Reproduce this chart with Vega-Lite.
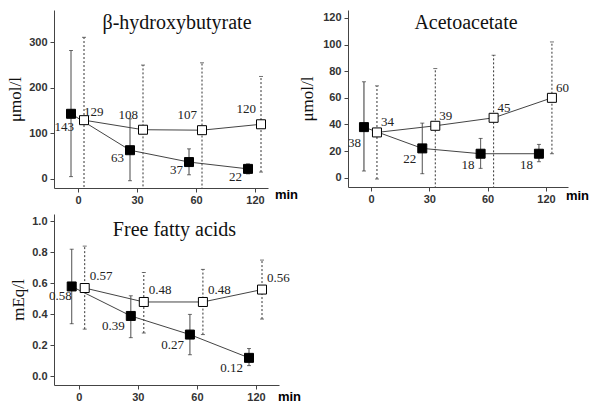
{
  "$schema": "https://vega.github.io/schema/vega-lite/v6.json",
  "background": "white",
  "padding": {"left": 6, "top": 10, "right": 0, "bottom": 0},
  "datasets": {
    "all": [
      {"panel": "bhb", "time": 0, "group": "filled", "mean": 143, "lo": 5, "hi": 282},
      {"panel": "bhb", "time": 30, "group": "filled", "mean": 63, "lo": -4, "hi": 132},
      {"panel": "bhb", "time": 60, "group": "filled", "mean": 37, "lo": 9, "hi": 66},
      {"panel": "bhb", "time": 120, "group": "filled", "mean": 22, "lo": 11, "hi": 33},
      {"panel": "bhb", "time": 0, "group": "open", "mean": 129, "lo": -53, "hi": 311},
      {"panel": "bhb", "time": 30, "group": "open", "mean": 108, "lo": -34, "hi": 250},
      {"panel": "bhb", "time": 60, "group": "open", "mean": 107, "lo": -41, "hi": 255},
      {"panel": "bhb", "time": 120, "group": "open", "mean": 120, "lo": 15, "hi": 225},
      {"panel": "aa", "time": 0, "group": "filled", "mean": 38, "lo": 5, "hi": 72},
      {"panel": "aa", "time": 30, "group": "filled", "mean": 22, "lo": 3, "hi": 41},
      {"panel": "aa", "time": 60, "group": "filled", "mean": 18, "lo": 7, "hi": 29.5},
      {"panel": "aa", "time": 120, "group": "filled", "mean": 18, "lo": 12, "hi": 25},
      {"panel": "aa", "time": 0, "group": "open", "mean": 34, "lo": -1, "hi": 69},
      {"panel": "aa", "time": 30, "group": "open", "mean": 39, "lo": -8, "hi": 82},
      {"panel": "aa", "time": 60, "group": "open", "mean": 45, "lo": -8, "hi": 92},
      {"panel": "aa", "time": 120, "group": "open", "mean": 60, "lo": 18, "hi": 102},
      {"panel": "ffa", "time": 0, "group": "filled", "mean": 0.58, "lo": 0.34, "hi": 0.82},
      {"panel": "ffa", "time": 30, "group": "filled", "mean": 0.39, "lo": 0.25, "hi": 0.52},
      {"panel": "ffa", "time": 60, "group": "filled", "mean": 0.27, "lo": 0.14, "hi": 0.40},
      {"panel": "ffa", "time": 120, "group": "filled", "mean": 0.12, "lo": 0.07, "hi": 0.18},
      {"panel": "ffa", "time": 0, "group": "open", "mean": 0.57, "lo": 0.305, "hi": 0.84},
      {"panel": "ffa", "time": 30, "group": "open", "mean": 0.48, "lo": 0.28, "hi": 0.67},
      {"panel": "ffa", "time": 60, "group": "open", "mean": 0.48, "lo": 0.27, "hi": 0.69},
      {"panel": "ffa", "time": 120, "group": "open", "mean": 0.56, "lo": 0.37, "hi": 0.75}
    ]
  },
  "data": {"name": "all"},
  "vconcat": [
    {
      "hconcat": [
        {
          "width": 214, "height": 178,
          "title": {"text": "β-hydroxybutyrate", "font": "Liberation Serif", "fontSize": 20, "fontWeight": "normal", "color": "#111", "offset": -23, "dx": 16},
          "transform": [{"filter": "datum.panel === 'bhb'"}],
          "encoding": {
            "x": {"field": "time", "type": "ordinal", "scale": {"type": "point", "padding": 0.3136, "align": 0.649},
                  "axis": {"labelAngle": 0, "title": "min", "titleAngle": 0, "titleX": 232, "titleY": 6, "titleBaseline": "middle", "titleAlign": "center"}},
            "y": {"field": "mean", "type": "quantitative", "scale": {"domain": [-20, 371], "nice": false, "zero": false},
                  "axis": {"values": [0, 100, 200, 300], "title": "μmol/l", "titlePadding": 4}}
          },
          "layer": [
            {"mark": {"type": "rule", "clip": true, "color": "#333", "strokeWidth": 1, "xOffset": {"expr": "datum.group === 'filled' ? -7 : 6"}},
             "encoding": {"y": {"field": "lo", "type": "quantitative", "scale": {"domain": [-20, 371], "nice": false, "zero": false}, "axis": {"values": [0, 100, 200, 300], "title": "μmol/l", "titlePadding": 4}},
                          "y2": {"field": "hi"},
                          "strokeDash": {"field": "group", "type": "nominal", "scale": {"domain": ["filled", "open"], "range": [[1, 0], [2, 2]]}, "legend": null}}},
            {"mark": {"type": "tick", "clip": true, "color": "#333", "size": 4, "thickness": 1, "orient": "horizontal", "xOffset": {"expr": "datum.group === 'filled' ? -7 : 6"}},
             "encoding": {"y": {"field": "hi", "type": "quantitative", "scale": {"domain": [-20, 371], "nice": false, "zero": false}, "axis": {"values": [0, 100, 200, 300], "title": "μmol/l", "titlePadding": 4}}}},
            {"mark": {"type": "tick", "clip": true, "color": "#333", "size": 4, "thickness": 1, "orient": "horizontal", "xOffset": {"expr": "datum.group === 'filled' ? -7 : 6"}},
             "transform": [{"filter": "datum.lo > -20"}],
             "encoding": {"y": {"field": "lo", "type": "quantitative", "scale": {"domain": [-20, 371], "nice": false, "zero": false}, "axis": {"values": [0, 100, 200, 300], "title": "μmol/l", "titlePadding": 4}}}},
            {"mark": {"type": "line", "color": "#444", "strokeWidth": 1, "xOffset": {"expr": "datum.group === 'filled' ? -7 : 6"}}, "encoding": {"detail": {"field": "group"}}},
            {"mark": {"type": "point", "shape": "square", "filled": true, "opacity": 1, "size": 81, "stroke": "#000", "strokeWidth": 1, "xOffset": {"expr": "datum.group === 'filled' ? -7 : 6"}},
             "encoding": {"fill": {"field": "group", "type": "nominal", "scale": {"domain": ["filled", "open"], "range": ["#000", "#fff"]}, "legend": null}}},
            {"transform": [{"filter": "datum.group === 'filled' && datum.time === 0"}],
             "mark": {"type": "text", "align": "right", "baseline": "middle", "dx": -4, "dy": 13, "font": "Liberation Serif", "fontSize": 13, "color": "#222"},
             "encoding": {"text": {"field": "mean", "type": "quantitative"}}},
            {"transform": [{"filter": "datum.group === 'filled' && datum.time !== 0"}],
             "mark": {"type": "text", "align": "right", "baseline": "middle", "dx": -13, "dy": 8, "font": "Liberation Serif", "fontSize": 13, "color": "#222"},
             "encoding": {"text": {"field": "mean", "type": "quantitative"}}},
            {"transform": [{"filter": "datum.group === 'open' && datum.time === 0"}],
             "mark": {"type": "text", "align": "left", "baseline": "middle", "dx": 6, "dy": -8, "font": "Liberation Serif", "fontSize": 13, "color": "#222"},
             "encoding": {"text": {"field": "mean", "type": "quantitative"}}},
            {"transform": [{"filter": "datum.group === 'open' && datum.time !== 0"}],
             "mark": {"type": "text", "align": "right", "baseline": "middle", "dx": 1, "dy": -15, "font": "Liberation Serif", "fontSize": 13, "color": "#222"},
             "encoding": {"text": {"field": "mean", "type": "quantitative"}}}
          ]
        },
        {
          "width": 220, "height": 177,
          "title": {"text": "Acetoacetate", "font": "Liberation Serif", "fontSize": 20, "fontWeight": "normal", "color": "#111", "offset": -23, "dx": 8},
          "transform": [{"filter": "datum.panel === 'aa'"}],
          "encoding": {
            "x": {"field": "time", "type": "ordinal", "scale": {"type": "point", "padding": 0.386, "align": 0.51},
                  "axis": {"labelAngle": 0, "title": "min", "titleAngle": 0, "titleX": 229, "titleY": 8, "titleBaseline": "middle", "titleAlign": "center"}},
            "y": {"field": "mean", "type": "quantitative", "scale": {"domain": [-7, 126], "nice": false, "zero": false},
                  "axis": {"values": [0, 20, 40, 60, 80, 100, 120], "title": "μmol/l", "titlePadding": 6}}
          },
          "layer": [
            {"mark": {"type": "rule", "clip": true, "color": "#333", "strokeWidth": 1, "xOffset": {"expr": "datum.group === 'filled' ? -7 : 6"}},
             "encoding": {"y": {"field": "lo", "type": "quantitative", "scale": {"domain": [-7, 126], "nice": false, "zero": false}, "axis": {"values": [0, 20, 40, 60, 80, 100, 120], "title": "μmol/l", "titlePadding": 6}},
                          "y2": {"field": "hi"},
                          "strokeDash": {"field": "group", "type": "nominal", "scale": {"domain": ["filled", "open"], "range": [[1, 0], [2, 2]]}, "legend": null}}},
            {"mark": {"type": "tick", "clip": true, "color": "#333", "size": 4, "thickness": 1, "orient": "horizontal", "xOffset": {"expr": "datum.group === 'filled' ? -7 : 6"}},
             "encoding": {"y": {"field": "hi", "type": "quantitative", "scale": {"domain": [-7, 126], "nice": false, "zero": false}, "axis": {"values": [0, 20, 40, 60, 80, 100, 120], "title": "μmol/l", "titlePadding": 6}}}},
            {"mark": {"type": "tick", "clip": true, "color": "#333", "size": 4, "thickness": 1, "orient": "horizontal", "xOffset": {"expr": "datum.group === 'filled' ? -7 : 6"}},
             "transform": [{"filter": "datum.lo > -7"}],
             "encoding": {"y": {"field": "lo", "type": "quantitative", "scale": {"domain": [-7, 126], "nice": false, "zero": false}, "axis": {"values": [0, 20, 40, 60, 80, 100, 120], "title": "μmol/l", "titlePadding": 6}}}},
            {"mark": {"type": "line", "color": "#444", "strokeWidth": 1, "xOffset": {"expr": "datum.group === 'filled' ? -7 : 6"}}, "encoding": {"detail": {"field": "group"}}},
            {"mark": {"type": "point", "shape": "square", "filled": true, "opacity": 1, "size": 81, "stroke": "#000", "strokeWidth": 1, "xOffset": {"expr": "datum.group === 'filled' ? -7 : 6"}},
             "encoding": {"fill": {"field": "group", "type": "nominal", "scale": {"domain": ["filled", "open"], "range": ["#000", "#fff"]}, "legend": null}}},
            {"transform": [{"filter": "datum.group === 'filled' && datum.time === 0"}],
             "mark": {"type": "text", "align": "right", "baseline": "middle", "dx": -10, "dy": 16, "font": "Liberation Serif", "fontSize": 13, "color": "#222"},
             "encoding": {"text": {"field": "mean", "type": "quantitative"}}},
            {"transform": [{"filter": "datum.group === 'filled' && datum.time !== 0"}],
             "mark": {"type": "text", "align": "right", "baseline": "middle", "dx": -13, "dy": 11, "font": "Liberation Serif", "fontSize": 13, "color": "#222"},
             "encoding": {"text": {"field": "mean", "type": "quantitative"}}},
            {"transform": [{"filter": "datum.group === 'open'"}],
             "mark": {"type": "text", "align": "left", "baseline": "middle", "dx": 10, "dy": -10, "font": "Liberation Serif", "fontSize": 13, "color": "#222"},
             "encoding": {"text": {"field": "mean", "type": "quantitative"}}}
          ]
        }
      ],
      "spacing": 0
    },
    {
      "width": 225, "height": 171,
      "title": {"text": "Free fatty acids", "font": "Liberation Serif", "fontSize": 20, "fontWeight": "normal", "color": "#111", "offset": -26, "dx": 8},
      "transform": [{"filter": "datum.panel === 'ffa'"}],
      "encoding": {
        "x": {"field": "time", "type": "ordinal", "scale": {"type": "point", "padding": 0.4035, "align": 0.518},
              "axis": {"labelAngle": 0, "title": "min", "titleAngle": 0, "titleX": 235, "titleY": 11, "titleBaseline": "middle", "titleAlign": "center"}},
        "y": {"field": "mean", "type": "quantitative", "scale": {"domain": [-0.055, 1.047], "nice": false, "zero": false},
              "axis": {"values": [0, 0.2, 0.4, 0.6, 0.8, 1.0], "format": ".1f", "title": "mEq/l", "titlePadding": 4}}
      },
      "layer": [
        {"mark": {"type": "rule", "clip": true, "color": "#333", "strokeWidth": 1, "xOffset": {"expr": "datum.group === 'filled' ? -7 : 6"}},
         "encoding": {"y": {"field": "lo", "type": "quantitative", "scale": {"domain": [-0.055, 1.047], "nice": false, "zero": false}, "axis": {"values": [0, 0.2, 0.4, 0.6, 0.8, 1.0], "format": ".1f", "title": "mEq/l", "titlePadding": 4}},
                      "y2": {"field": "hi"},
                      "strokeDash": {"field": "group", "type": "nominal", "scale": {"domain": ["filled", "open"], "range": [[1, 0], [2, 2]]}, "legend": null}}},
        {"mark": {"type": "tick", "clip": true, "color": "#333", "size": 4, "thickness": 1, "orient": "horizontal", "xOffset": {"expr": "datum.group === 'filled' ? -7 : 6"}},
         "encoding": {"y": {"field": "hi", "type": "quantitative", "scale": {"domain": [-0.055, 1.047], "nice": false, "zero": false}, "axis": {"values": [0, 0.2, 0.4, 0.6, 0.8, 1.0], "format": ".1f", "title": "mEq/l", "titlePadding": 4}}}},
        {"mark": {"type": "tick", "clip": true, "color": "#333", "size": 4, "thickness": 1, "orient": "horizontal", "xOffset": {"expr": "datum.group === 'filled' ? -7 : 6"}},
         "encoding": {"y": {"field": "lo", "type": "quantitative", "scale": {"domain": [-0.055, 1.047], "nice": false, "zero": false}, "axis": {"values": [0, 0.2, 0.4, 0.6, 0.8, 1.0], "format": ".1f", "title": "mEq/l", "titlePadding": 4}}}},
        {"mark": {"type": "line", "color": "#444", "strokeWidth": 1, "xOffset": {"expr": "datum.group === 'filled' ? -7 : 6"}}, "encoding": {"detail": {"field": "group"}}},
        {"mark": {"type": "point", "shape": "square", "filled": true, "opacity": 1, "size": 81, "stroke": "#000", "strokeWidth": 1, "xOffset": {"expr": "datum.group === 'filled' ? -7 : 6"}},
         "encoding": {"fill": {"field": "group", "type": "nominal", "scale": {"domain": ["filled", "open"], "range": ["#000", "#fff"]}, "legend": null}}},
        {"transform": [{"filter": "datum.group === 'filled' && datum.time === 0"}],
         "mark": {"type": "text", "align": "right", "baseline": "middle", "dx": -7, "dy": 10, "font": "Liberation Serif", "fontSize": 13, "color": "#222"},
         "encoding": {"text": {"field": "mean", "type": "quantitative", "format": ".2f"}}},
        {"transform": [{"filter": "datum.group === 'filled' && datum.time !== 0"}],
         "mark": {"type": "text", "align": "right", "baseline": "middle", "dx": -13, "dy": 10, "font": "Liberation Serif", "fontSize": 13, "color": "#222"},
         "encoding": {"text": {"field": "mean", "type": "quantitative", "format": ".2f"}}},
        {"transform": [{"filter": "datum.group === 'open'"}],
         "mark": {"type": "text", "align": "left", "baseline": "middle", "dx": 11, "dy": -12, "font": "Liberation Serif", "fontSize": 13, "color": "#222"},
         "encoding": {"text": {"field": "mean", "type": "quantitative", "format": ".2f"}}}
      ]
    }
  ],
  "spacing": 9,
  "config": {
    "view": {"stroke": null},
    "axis": {"domainColor": "#444", "tickColor": "#444", "tickSize": 4, "grid": false,
             "labelFont": "Liberation Sans", "labelFontSize": 11, "labelFontWeight": "bold", "labelColor": "#333", "labelPadding": 3,
             "titleFont": "Liberation Serif", "titleFontSize": 17, "titleFontWeight": "normal", "titleColor": "#111"},
    "axisX": {"titleFont": "Liberation Sans", "titleFontWeight": "bold", "titleFontSize": 13, "titleColor": "#000", "labelPadding": 2}
  }
}
